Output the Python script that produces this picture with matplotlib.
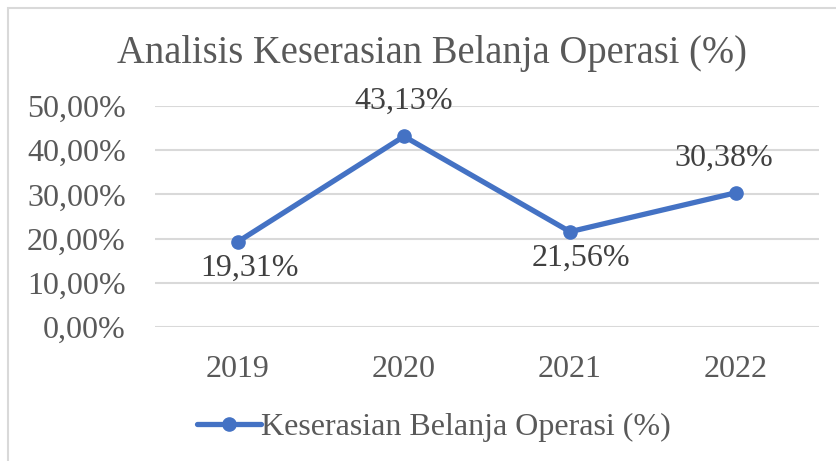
import matplotlib
matplotlib.use('Agg')
import matplotlib.pyplot as plt
from matplotlib.patches import Rectangle
from matplotlib.ticker import FuncFormatter

years = ['2019', '2020', '2021', '2022']
values = [19.31, 43.13, 21.56, 30.38]
labels = ['19,31%', '43,13%', '21,56%', '30,38%']
yticks = [0, 10, 20, 30, 40, 50]

blue = '#4472C4'
grey = '#595959'
plt.rcParams['font.family'] = ['Liberation Serif', 'DejaVu Serif']

fig = plt.figure(figsize=(8.37, 4.61), dpi=100)
# chart frame (runs off the right and bottom edge)
fig.patches.append(Rectangle((8/837, -0.1), 1.0, 1 - 8/461 + 0.1,
                             transform=fig.transFigure, fill=False,
                             edgecolor='#D9D9D9', linewidth=1.5))

ax = fig.add_axes([155/837, 1 - 327/461, (819 - 155)/837, (327 - 106)/461])
x = range(len(years))
ax.plot(x, values, color=blue, linewidth=3.8, marker='o', markersize=9.5,
        solid_capstyle='round', label='Keserasian Belanja Operasi (%)',
        zorder=3)

ax.set_xlim(-0.5, len(years) - 0.5)
ax.set_ylim(0, 50)
ax.set_yticks(yticks)
ax.yaxis.set_major_formatter(FuncFormatter(lambda v, p: f'{v:.2f}%'.replace('.', ',')))
ax.set_xticks(list(x))
ax.set_xticklabels(years)
ax.tick_params(length=0, labelsize=23, colors=grey)
ax.tick_params(axis='x', pad=20)
ax.tick_params(axis='y', pad=21)
ax.grid(axis='y', color='#D9D9D9', linewidth=1.5)
ax.set_axisbelow(True)
for s in ax.spines.values():
    s.set_visible(False)

# data labels (Excel style: above or below)
offsets = [(8.5, -19), (0, 25), (8, -19), (-9, 25)]
for i, (v, lab) in enumerate(zip(values, labels)):
    dx, dy = offsets[i]
    ax.annotate(lab, (i, v), xytext=(dx, dy), textcoords='offset points',
                ha='center', va='center', fontsize=23, color='#404040')

fig.text(432/837, 1 - 53/461, 'Analisis Keserasian Belanja Operasi (%)',
         ha='center', va='center', fontsize=27.8, color=grey)

ax.legend(loc='center', bbox_to_anchor=(434/837, 1 - 427/461), bbox_transform=fig.transFigure,
          frameon=False, fontsize=23, labelcolor=grey, handlelength=2.0,
          handletextpad=0.0, borderaxespad=0)

fig.savefig('out.png', dpi=100)
